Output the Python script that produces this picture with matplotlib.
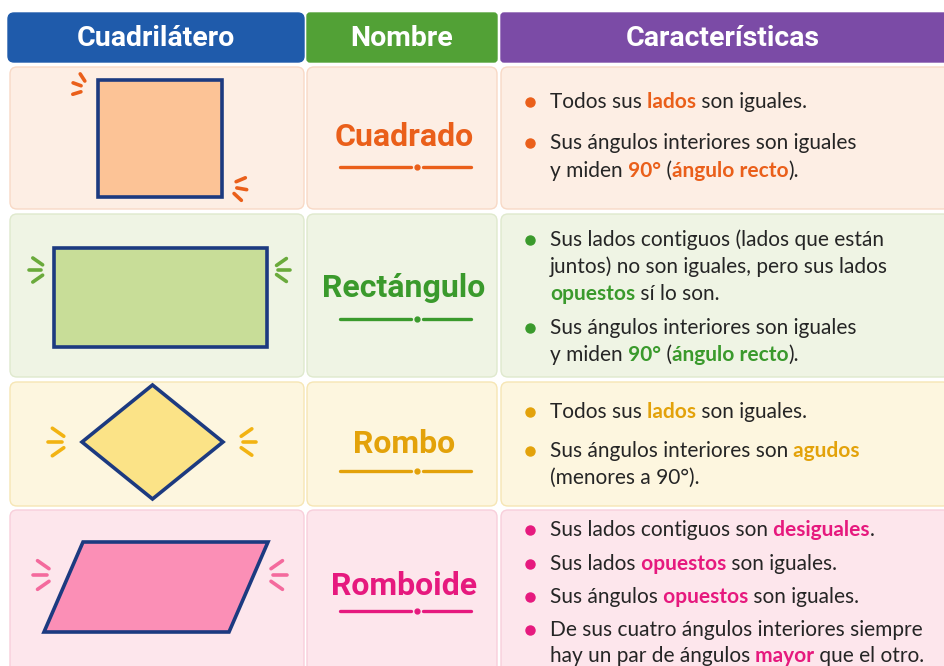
import numpy as np
import matplotlib.pyplot as plt
from matplotlib.patches import FancyBboxPatch, Polygon

# ---- content ----
headers = ["Cuadrilátero", "Nombre", "Características"]
header_colors = ["#1f5bab", "#52a136", "#7b4ba6"]

names = ["Cuadrado", "Rectángulo", "Rombo", "Romboide"]
accent = ["#ea5f1a", "#3a9a2c", "#e3a20a", "#e6197e"]
shape_fill = ["#fcc396", "#c8dd98", "#fbe387", "#fb8fb6"]
row_bg = ["#fdeee4", "#eff4e4", "#fdf6df", "#fde6ec"]
row_edge = ["#f8d9c6", "#dfe9cd", "#f6e6b4", "#f8cfdb"]

# *word* = highlighted in the row colour
caract = [
    [["Todos sus *lados* son iguales."],
     ["Sus ángulos interiores son iguales", "y miden *90°* (*ángulo recto*)."]],
    [["Sus lados contiguos (lados que están",
      "juntos) no son iguales, pero sus lados",
      "*opuestos* sí lo son."],
     ["Sus ángulos interiores son iguales", "y miden *90°* (*ángulo recto*)."]],
    [["Todos sus *lados* son iguales."],
     ["Sus ángulos interiores son *agudos*", "(menores a 90°)."]],
    [["Sus lados contiguos son *desiguales*."],
     ["Sus lados *opuestos* son iguales."],
     ["Sus ángulos *opuestos* son iguales."],
     ["De sus cuatro ángulos interiores siempre",
      "hay un par de ángulos *mayor* que el otro."]],
]

# ---- layout (pixels) ----
W, H = 944, 666
col_x = [(10, 304), (307, 497), (501, 950)]
head_y = (13, 62)
row_y = [(67, 209), (214, 377), (382, 506), (510, 690)]
line_y = [[102, 143, 171], [240, 267, 294, 328, 355], [412, 451, 478],
          [530, 564, 597, 630, 656]]
name_base = [146, 297, 453, 595]
ul_y = [167, 319, 471, 611]
TXT = "#252525"
NAVY = "#1c3a80"
BODY = ["Lato", "DejaVu Sans"]
NAMEF = ["Roboto", "DejaVu Sans"]
HEADF = ["Roboto", "DejaVu Sans"]

fig = plt.figure(figsize=(W / 100, H / 100), dpi=100)
ax = fig.add_axes([0, 0, 1, 1])
ax.set_xlim(0, W)
ax.set_ylim(H, 0)
ax.axis("off")


def cell(x0, x1, y0, y1, fc, ec, r=7):
    ax.add_patch(FancyBboxPatch((x0, y0), x1 - x0, y1 - y0,
                                boxstyle=f"round,pad=0,rounding_size={r}",
                                fc=fc, ec=ec, lw=1))


def sparkle(cx, cy, ang, r1, r2, spread, color):
    for a in (ang - spread, ang, ang + spread):
        t = np.deg2rad(a)
        ax.plot([cx + r1 * np.cos(t), cx + r2 * np.cos(t)],
                [cy + r1 * np.sin(t), cy + r2 * np.sin(t)],
                color=color, lw=2.6, solid_capstyle="round")


def rich_line(x, y, text, color):
    segs = [(p, i % 2 == 1) for i, p in enumerate(text.split("*")) if p]
    fixed, carry = [], ""
    for s, hl in segs:
        s = carry + s
        st = s.rstrip(" ")
        carry = s[len(st):]
        fixed.append((st, hl))
    prev = None
    for s, hl in fixed:
        kw = dict(fontsize=15, family=BODY, ha="left",
                  color=color if hl else TXT,
                  fontweight="bold" if hl else "normal")
        if prev is None:
            prev = ax.text(x, y, s, va="center", **kw)
        else:
            prev = ax.annotate(s, xy=(1, 0), xycoords=prev, va="bottom", **kw)


# header
cell(8, col_x[0][1], *head_y, header_colors[0], header_colors[0], r=6)
for i in (1, 2):
    cell(col_x[i][0], col_x[i][1], *head_y, header_colors[i], header_colors[i], r=3)
for i, h in enumerate(headers):
    x0 = 8 if i == 0 else col_x[i][0]
    xc = (x0 + min(col_x[i][1], W)) / 2
    ax.text(xc, 38, h, color="white", fontsize=20.5, fontweight="bold",
            family=HEADF, ha="center", va="center")

# rows
for r in range(4):
    for (x0, x1) in col_x:
        cell(x0, x1, *row_y[r], row_bg[r], row_edge[r])

    # name + ornament
    ax.text(404, name_base[r], names[r], color=accent[r], fontsize=23,
            fontweight="bold", family=NAMEF, ha="center", va="baseline")
    ax.plot([340, 411], [ul_y[r]] * 2, color=accent[r], lw=2.4, solid_capstyle="round")
    ax.plot([423, 471], [ul_y[r]] * 2, color=accent[r], lw=2.4, solid_capstyle="round")
    ax.plot([417], [ul_y[r]], "o", color=accent[r], ms=3.5)

    # characteristics
    k = 0
    for bullet in caract[r]:
        ax.plot([530], [line_y[r][k]], "o", color=accent[r], ms=6.5)
        for ln in bullet:
            rich_line(550, line_y[r][k], ln, accent[r])
            k += 1

# shapes
shape_kw = dict(ec=NAVY, lw=2.6, joinstyle="miter")
cx, cy, w, h = 160, 138.5, 124, 117
ax.add_patch(Polygon([(cx - w/2, cy - h/2), (cx + w/2, cy - h/2),
                      (cx + w/2, cy + h/2), (cx - w/2, cy + h/2)],
                     fc=shape_fill[0], **shape_kw))
sparkle(90, 89, 200, 9.5, 18, 37, accent[0])
sparkle(226, 186, 10, 11, 21, 33, accent[0])

cx, cy, w, h = 160, 297.5, 213, 99
ax.add_patch(Polygon([(cx - w/2, cy - h/2), (cx + w/2, cy - h/2),
                      (cx + w/2, cy + h/2), (cx - w/2, cy + h/2)],
                     fc=shape_fill[1], **shape_kw))
sparkle(50, 270, 180, 9, 21, 35, "#6aaa3c")
sparkle(270, 270, 0, 8, 20, 35, "#6aaa3c")

cx, cy, a, b = 152.5, 442, 70.5, 57
ax.add_patch(Polygon([(cx, cy - b), (cx + a, cy), (cx, cy + b), (cx - a, cy)],
                     fc=shape_fill[2], **shape_kw))
sparkle(72, 442, 180, 10, 24, 35, "#f2b312")
sparkle(233, 442, 0, 10, 23, 35, "#f2b312")

cx, cy, w, h, sk = 156, 587, 185, 90, 39
ax.add_patch(Polygon([(cx - w/2 + sk/2, cy - h/2), (cx + w/2 + sk/2, cy - h/2),
                      (cx + w/2 - sk/2, cy + h/2), (cx - w/2 - sk/2, cy + h/2)],
                     fc=shape_fill[3], **shape_kw))
sparkle(58, 575, 180, 11, 25, 35, "#f46a9d")
sparkle(262, 575, 0, 11, 25, 35, "#f46a9d")

fig.savefig("out.png", dpi=100)
